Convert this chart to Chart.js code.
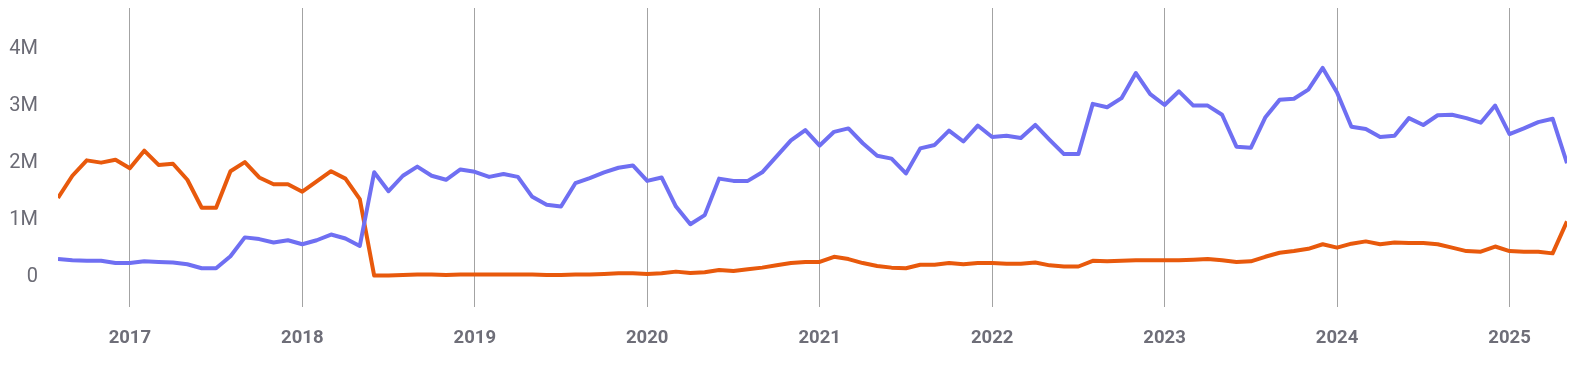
<!DOCTYPE html>
<html lang="en">
<head>
  <meta charset="UTF-8" />
  <title>Monthly trend</title>
  <script src="https://cdn.jsdelivr.net/npm/chart.js"></script>
  <style>
    html, body { margin: 0; padding: 0; background: #fff; }
    #wrap { width: 1574px; height: 366px; }
  </style>
</head>
<body>
<div id="wrap"><canvas id="lineChart"></canvas></div>
<script>
  // months from Aug 2016 to May 2025, values in millions
  const firstYear = 2016;
  const firstMonth = 7; // 0-based, August
  const yearLabels = [2017, 2018, 2019, 2020, 2021, 2022, 2023, 2024, 2025];
  const yTicks = [0, 1, 2, 3, 4];

  const blueSeries = [
    0.32, 0.30, 0.29, 0.29, 0.25,
    0.25, 0.28, 0.27, 0.26, 0.23, 0.16, 0.16, 0.37, 0.70, 0.67, 0.61, 0.65,
    0.58, 0.65, 0.75, 0.68, 0.55, 1.84, 1.51, 1.78, 1.94, 1.78, 1.71, 1.89,
    1.85, 1.76, 1.81, 1.76, 1.41, 1.27, 1.24, 1.65, 1.74, 1.84, 1.92, 1.96,
    1.69, 1.75, 1.24, 0.93, 1.09, 1.73, 1.69, 1.69, 1.84, 2.12, 2.40, 2.58,
    2.31, 2.55, 2.61, 2.35, 2.13, 2.08, 1.82, 2.26, 2.32, 2.57, 2.38, 2.66,
    2.46, 2.48, 2.44, 2.67, 2.41, 2.16, 2.16, 3.04, 2.98, 3.14, 3.58, 3.21,
    3.02, 3.26, 3.01, 3.01, 2.85, 2.29, 2.27, 2.80, 3.11, 3.13, 3.29, 3.67,
    3.24, 2.64, 2.60, 2.46, 2.48, 2.79, 2.67, 2.84, 2.85, 2.79, 2.71, 3.01,
    2.51, 2.61, 2.72, 2.78, 2.00
  ];

  const orangeSeries = [
    1.39, 1.78, 2.05, 2.01, 2.06,
    1.91, 2.22, 1.97, 1.99, 1.71, 1.22, 1.22, 1.86, 2.02, 1.75, 1.63, 1.63,
    1.50, 1.68, 1.86, 1.73, 1.37, 0.03, 0.03, 0.04, 0.05, 0.05, 0.04, 0.05,
    0.05, 0.05, 0.05, 0.05, 0.05, 0.04, 0.04, 0.05, 0.05, 0.06, 0.07, 0.07,
    0.06, 0.07, 0.10, 0.075, 0.09, 0.13, 0.11, 0.14, 0.17, 0.21, 0.25, 0.27,
    0.27, 0.36, 0.32, 0.25, 0.20, 0.17, 0.16, 0.22, 0.22, 0.25, 0.23, 0.25,
    0.25, 0.24, 0.24, 0.26, 0.21, 0.19, 0.19, 0.29, 0.28, 0.29, 0.30, 0.30,
    0.30, 0.30, 0.31, 0.32, 0.30, 0.27, 0.28, 0.36, 0.43, 0.46, 0.50, 0.58,
    0.52, 0.59, 0.63, 0.58, 0.61, 0.60, 0.60, 0.58, 0.52, 0.46, 0.45, 0.54,
    0.46, 0.45, 0.45, 0.42, 0.98
  ];

  // month index of each January tick
  const yearTickIdx = yearLabels.map(y => (y - firstYear) * 12 - firstMonth);

  const toPoints = arr => arr.map((v, i) => ({ x: i, y: v }));

  const ctx = document.getElementById('lineChart').getContext('2d');
  new Chart(ctx, {
    type: 'line',
    data: {
      datasets: [
        {
          label: 'Blue',
          data: toPoints(blueSeries),
          borderColor: '#6f6ff2',
          borderWidth: 4,
          pointRadius: 0,
          tension: 0,
          borderJoinStyle: 'round'
        },
        {
          label: 'Orange',
          data: toPoints(orangeSeries),
          borderColor: '#e8590c',
          borderWidth: 4,
          pointRadius: 0,
          tension: 0,
          borderJoinStyle: 'round'
        }
      ]
    },
    options: {
      responsive: true,
      maintainAspectRatio: false,
      animation: false,
      layout: { padding: { top: 8, right: 7, left: 0, bottom: 0 } },
      plugins: { legend: { display: false }, tooltip: { enabled: false } },
      scales: {
        x: {
          type: 'linear',
          min: 0,
          max: blueSeries.length - 1,
          afterBuildTicks: s => { s.ticks = yearTickIdx.map(v => ({ value: v })); },
          afterFit: s => { s.height = 59; },
          border: { display: false },
          grid: { color: '#a3a3a3', lineWidth: 1, drawTicks: true, tickLength: 18, tickColor: 'rgba(0,0,0,0)' },
          ticks: {
            padding: 2,
            color: '#6e6e78',
            font: { family: 'Roboto', size: 18.5, weight: 'bold' },
            maxRotation: 0,
            callback: v => String(firstYear + (v + firstMonth) / 12)
          }
        },
        y: {
          min: -0.52,
          max: 4.72,
          afterBuildTicks: s => { s.ticks = yTicks.map(v => ({ value: v })); },
          afterFit: s => { s.width = 58; },
          border: { display: false },
          grid: { display: true, drawOnChartArea: false, drawTicks: true, tickLength: 19, color: 'rgba(0,0,0,0)', tickColor: 'rgba(0,0,0,0)' },
          ticks: {
            padding: 1,
            color: '#6b6b75',
            font: { family: 'Roboto', size: 20, lineHeight: 0.7 },
            callback: v => v === 0 ? '0' : v + 'M'
          }
        }
      }
    }
  });
</script>
</body>
</html>
